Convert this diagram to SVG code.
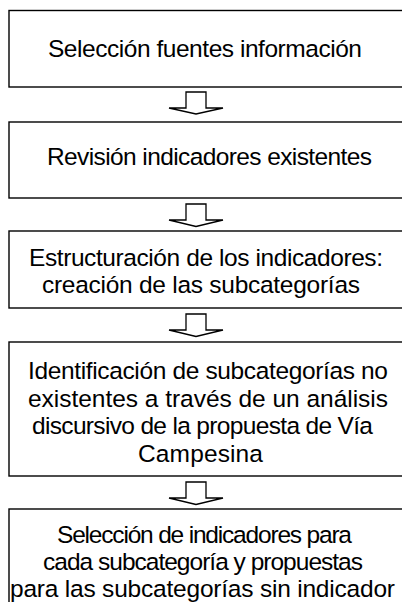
<svg xmlns="http://www.w3.org/2000/svg" width="402" height="602" viewBox="0 0 402 602">
<style>
.box{fill:#fff;stroke:#000;stroke-width:1.4}
.arr{fill:#fff;stroke:#000;stroke-width:1.3;stroke-linejoin:miter}
text{font-family:"Liberation Sans",Arial,sans-serif;font-size:24.5px;fill:#000}
</style>
<rect width="402" height="602" fill="#fff"/>
<g id="connectors">
<path class="arr" d="M186,92 H206 V108 H223 L196,114 L169,108 H186 Z"/>
<path class="arr" d="M186,204 H206 V220 H223 L196,226.5 L169,220 H186 Z"/>
<path class="arr" d="M186,314 H206 V330 H223 L196,336.5 L169,330 H186 Z"/>
<path class="arr" d="M186,482 H206 V498 H223 L196,504.5 L169,498 H186 Z"/>
</g>
<g id="n1">
<rect class="box" x="9" y="10.5" width="400" height="76.5"/>
<text x="48" y="56.5" textLength="314" lengthAdjust="spacing">Selección fuentes información</text>
</g>
<g id="n2">
<rect class="box" x="9" y="122" width="400" height="76"/>
<text x="47" y="165" textLength="325" lengthAdjust="spacing">Revisión indicadores existentes</text>
</g>
<g id="n3">
<rect class="box" x="9" y="231" width="400" height="77"/>
<text x="29" y="266" textLength="354" lengthAdjust="spacing">Estructuración de los indicadores:</text>
<text x="42" y="293" textLength="318" lengthAdjust="spacing">creación de las subcategorías</text>
</g>
<g id="n4">
<rect class="box" x="9" y="342" width="400" height="134"/>
<text x="28" y="379" textLength="360" lengthAdjust="spacing">Identificación de subcategorías no</text>
<text x="28" y="407" textLength="360" lengthAdjust="spacing">existentes a través de un análisis</text>
<text x="32" y="434" textLength="341" lengthAdjust="spacing">discursivo de la propuesta de Vía</text>
<text x="138" y="462" textLength="125" lengthAdjust="spacing">Campesina</text>
</g>
<g id="n5">
<rect class="box" x="9" y="509" width="400" height="110"/>
<text x="57" y="543" textLength="295" lengthAdjust="spacing">Selección de indicadores para</text>
<text x="43" y="570" textLength="320" lengthAdjust="spacing">cada subcategoría y propuestas</text>
<text x="10" y="597" textLength="385" lengthAdjust="spacing">para las subcategorías sin indicador</text>
</g>
</svg>
